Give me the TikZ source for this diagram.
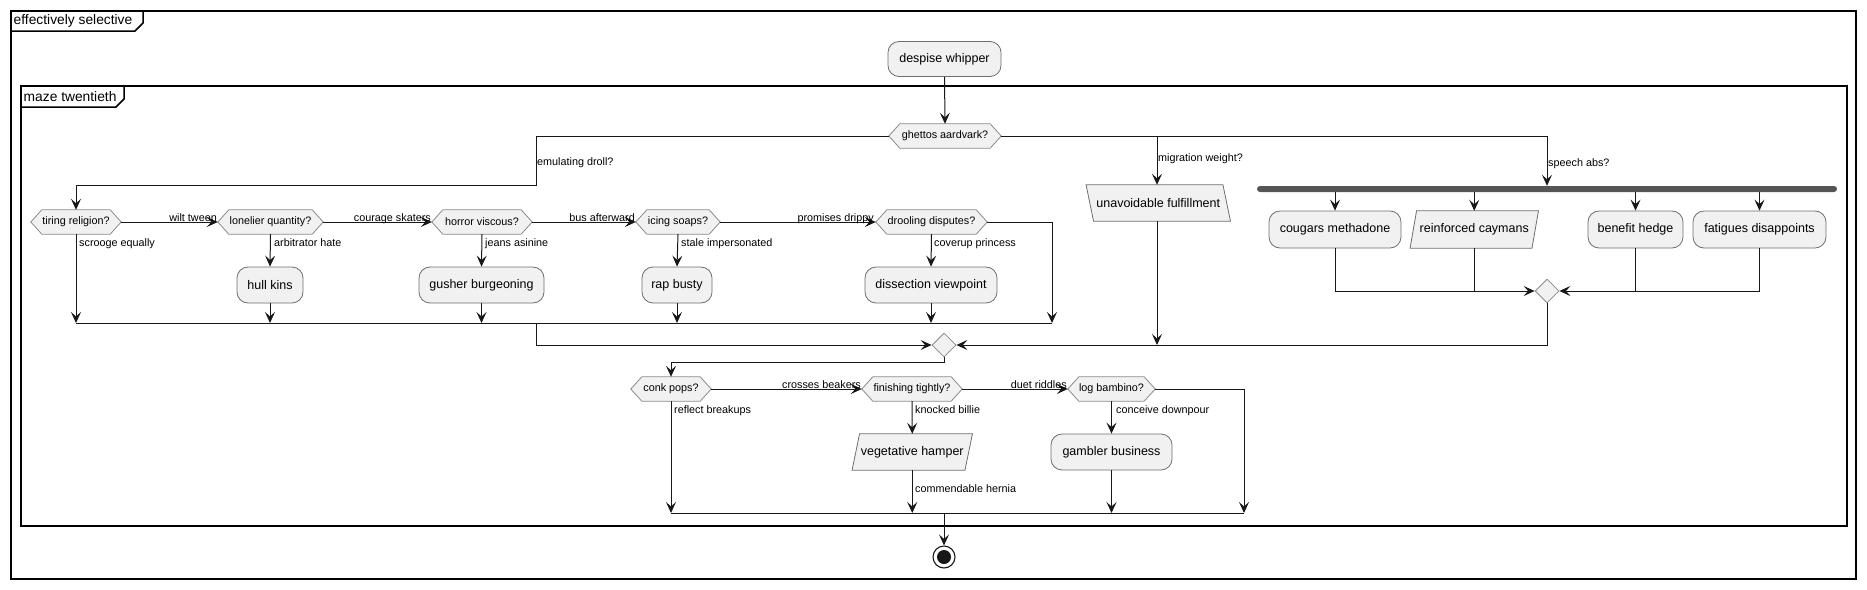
\documentclass[tikz,border=0pt]{standalone}
\usepackage{fontspec}
\setmainfont{Liberation Sans}
\usetikzlibrary{arrows.meta,shapes.geometric,calc}
\pgfdeclarelayer{bg}
\pgfsetlayers{bg,main}
\definecolor{linec}{HTML}{181818}
\definecolor{boxf}{HTML}{F1F1F1}
\definecolor{boxb}{HTML}{6E6E6E}
\definecolor{hexb}{HTML}{8A8A8A}
\definecolor{forkc}{HTML}{555555}
\newcommand\boxfont{\fontsize{12.5}{14}\selectfont}
\newcommand\hexfont{\fontsize{10.8}{12}\selectfont}
\newcommand\lblfont{\fontsize{10.8}{12}\selectfont}
\newcommand\ttlfont{\fontsize{13.8}{16}\selectfont}
\tikzset{
 arr/.style={draw=linec, line width=1pt, -{Stealth[length=11pt,width=10pt,inset=4.5pt]}},
 ln/.style={draw=linec, line width=1pt},
 rbox/.style={rectangle, rounded corners=11pt, draw=boxb, line width=0.8pt, fill=boxf, inner sep=0pt, font=\boxfont},
 hexn/.style={rectangle, minimum height=24pt, inner sep=0pt, font=\hexfont},
 hexd/.style={draw=hexb, line width=0.8pt, fill=boxf},
 paran/.style={rectangle, inner sep=0pt, font=\boxfont},
 parad/.style={draw=boxb, line width=0.8pt, fill=boxf},
 lbl/.style={inner sep=0pt, font=\lblfont, text=black},
 fframe/.style={draw=black, line width=1.5pt},
 dia/.style={diamond, minimum width=24pt, minimum height=24pt, inner sep=0pt, draw=hexb, fill=boxf, line width=0.8pt},
 forkbar/.style={rectangle, rounded corners=3pt, fill=forkc, minimum width=580pt, minimum height=6pt, inner sep=0pt},
 endc/.style={circle, minimum size=22pt, inner sep=0pt, draw=linec, line width=1.1pt, fill=white},
}
% #1 name, #2 x, #3 y, #4 width, #5 text
\newcommand\myhex[5]{%
  \node[hexn, minimum width=#4pt] (#1) at (#2,#3) {#5};
  \begin{pgfonlayer}{bg}
  \draw[hexd] (#1.west) -- ([xshift=11pt]#1.north west) -- ([xshift=-11pt]#1.north east) -- (#1.east) -- ([xshift=-11pt]#1.south east) -- ([xshift=11pt]#1.south west) -- cycle;
  \end{pgfonlayer}}
% #1 name, #2 x, #3 y, #4 width, #5 height, #6 half slant, #7 text
\newcommand\mypara[7]{%
  \node[paran, minimum width=#4pt, minimum height=#5pt] (#1) at (#2,#3) {#7};
  \begin{pgfonlayer}{bg}
  \draw[parad] ([xshift={(#6)*1pt}]#1.north west) -- ([xshift={(#6)*1pt}]#1.north east) -- ([xshift={-(#6)*1pt}]#1.south east) -- ([xshift={-(#6)*1pt}]#1.south west) -- cycle;
  \end{pgfonlayer}}
\begin{document}
\begin{tikzpicture}[x=1pt,y=-1pt]
\useasboundingbox (0,0) rectangle (1867,589);
% frames
\draw[fframe] (11,11) rectangle (1856,579);
\draw[fframe] (11,31) -- (135,31) -- (143,23) -- (143,11);
\node[lbl, font=\ttlfont, anchor=west] (t1) at (13.5,21) {effectively selective};
\draw[fframe] (21,86) rectangle (1847,526);
\draw[fframe] (21,107) -- (116,107) -- (124,99) -- (124,86);
\node[lbl, font=\ttlfont, anchor=west] (t2) at (23.5,96.5) {maze twentieth};

% nodes
\node[rbox, minimum width=113pt, minimum height=35pt] (despise) at (944.5,59) {despise whipper};
\myhex{ghettos}{945}{136}{112}{ghettos aardvark?}
\myhex{tiring}{76}{222}{90}{tiring religion?}
\myhex{lonelier}{270.5}{222}{105}{lonelier quantity?}
\myhex{horror}{482}{222}{100}{horror viscous?}
\myhex{icing}{678}{222}{84}{icing soaps?}
\myhex{drooling}{931.5}{222}{111}{drooling disputes?}
\node[rbox, minimum width=66pt, minimum height=36pt] (hull) at (270,285) {hull kins};
\node[rbox, minimum width=125pt, minimum height=36pt] (gusher) at (481.5,285) {gusher burgeoning};
\node[rbox, minimum width=70pt, minimum height=36pt] (rap) at (677,285) {rap busty};
\node[rbox, minimum width=132pt, minimum height=36pt] (dissection) at (931,285) {dissection viewpoint};
\mypara{unav}{1158.25}{203}{136.5}{36}{-3.75}{unavoidable fulfillment}
\node[forkbar] (fork) at (1547,189) {};
\node[rbox, minimum width=132pt, minimum height=37pt] (cougars) at (1335,229.5) {cougars methadone};
\mypara{reinf}{1474.25}{229.5}{121.5}{37}{3.25}{reinforced caymans}
\node[rbox, minimum width=95pt, minimum height=37pt] (benefit) at (1635.5,229.5) {benefit hedge};
\node[rbox, minimum width=133pt, minimum height=37pt] (fatigues) at (1759.5,229.5) {fatigues disappoints};
\node[dia] (join) at (1547,291) {};
\node[dia] (merge) at (944,345) {};
\myhex{conk}{671}{389}{80}{conk pops?}
\myhex{finishing}{912}{389}{100}{finishing tightly?}
\myhex{logb}{1111.5}{389}{87}{log bambino?}
\mypara{veg}{912.25}{452}{112.5}{36}{3.75}{vegetative hamper}
\node[rbox, minimum width=121pt, minimum height=36pt] (gambler) at (1111.5,452) {gambler business};
\node[endc] (end) at (944,557) {};
\fill[linec] (end.center) circle[radius=7pt];

% coordinates
\coordinate (m1) at (536,323);
\coordinate (r1) at (1052,323);
\coordinate (m2) at (944,513);
\coordinate (r2) at (1244,513);

% top connectors
\draw[arr] (despise.south) -- (ghettos.north);
\draw[arr] (ghettos.west) -| (536,185) -| (tiring.north);
\draw[arr] (ghettos.east) -| (fork.north);
\draw[arr] (ghettos.east -| 1157,0) -- (unav.north -| 1157,0);
\node[lbl, anchor=base west] (l1) at (537,165) {emulating droll?};
\node[lbl, anchor=base west] (l2) at (1158,161) {migration weight?};
\node[lbl, anchor=base west] (l3) at (1548,166) {speech abs?};

% left row
\draw[arr] (tiring.east) -- (lonelier.west);
\draw[arr] (lonelier.east) -- (horror.west);
\draw[arr] (horror.east) -- (icing.west);
\draw[arr] (icing.east) -- (drooling.west);
\draw[arr] (drooling.east) -| (r1);
\node[lbl, anchor=base east] (l4) at (217,221) {wilt tween};
\node[lbl, anchor=base east] (l5) at (431,221) {courage skaters};
\node[lbl, anchor=base east] (l6) at (635,221) {bus afterward};
\node[lbl, anchor=base east] (l7) at (874,221) {promises drippy};
\draw[arr] (tiring.south) -- (tiring.south |- m1);
\draw[arr] (lonelier.south) -- (hull.north);
\draw[arr] (horror.south) -- (gusher.north);
\draw[arr] (icing.south) -- (rap.north);
\draw[arr] (drooling.south) -- (dissection.north);
\draw[arr] (hull.south) -- (hull.south |- m1);
\draw[arr] (gusher.south) -- (gusher.south |- m1);
\draw[arr] (rap.south) -- (rap.south |- m1);
\draw[arr] (dissection.south) -- (dissection.south |- m1);
\node[lbl, anchor=base west] (l8) at (79,246) {scrooge equally};
\node[lbl, anchor=base west] (l9) at (274,246) {arbitrator hate};
\node[lbl, anchor=base west] (l10) at (485,246) {jeans asinine};
\node[lbl, anchor=base west] (l11) at (681,246) {stale impersonated};
\node[lbl, anchor=base west] (l12) at (934,246) {coverup princess};
\draw[ln] (tiring.south |- m1) -- (r1);
\draw[arr] (m1) |- (merge.west);

% fork
\draw[arr] (fork.south -| cougars.north) -- (cougars.north);
\draw[arr] (fork.south -| reinf.north) -- (reinf.north);
\draw[arr] (fork.south -| benefit.north) -- (benefit.north);
\draw[arr] (fork.south -| fatigues.north) -- (fatigues.north);
\draw[arr] (cougars.south) |- (join.west);
\draw[ln] (reinf.south) -- (reinf.south |- join.west);
\draw[ln] (benefit.south) -- (benefit.south |- join.east);
\draw[arr] (fatigues.south) |- (join.east);
\draw[arr] (join.south) |- (merge.east);
\draw[arr] (unav.south -| 1157,0) -- (merge.east -| 1157,0);

% lower section
\draw[arr] (merge.south) -- ++(0,5) -| (conk.north);
\draw[arr] (conk.east) -- (finishing.west);
\draw[arr] (finishing.east) -- (logb.west);
\draw[arr] (logb.east) -| (r2);
\node[lbl, anchor=base east] (l13) at (861,388) {crosses beakers};
\node[lbl, anchor=base east] (l14) at (1067,388) {duet riddles};
\draw[arr] (conk.south) -- (conk.south |- m2);
\draw[arr] (finishing.south) -- (veg.north);
\draw[arr] (veg.south) -- (veg.south |- m2);
\draw[arr] (logb.south) -- (gambler.north);
\draw[arr] (gambler.south) -- (gambler.south |- m2);
\node[lbl, anchor=base west] (l15) at (674,413) {reflect breakups};
\node[lbl, anchor=base west] (l16) at (915,413) {knocked billie};
\node[lbl, anchor=base west] (l17) at (1116,413) {conceive downpour};
\node[lbl, anchor=base west] (l18) at (915,492) {commendable hernia};
\draw[ln] (conk.south |- m2) -- (r2);
\draw[arr] (m2) -- (end);
\end{tikzpicture}
\end{document}
